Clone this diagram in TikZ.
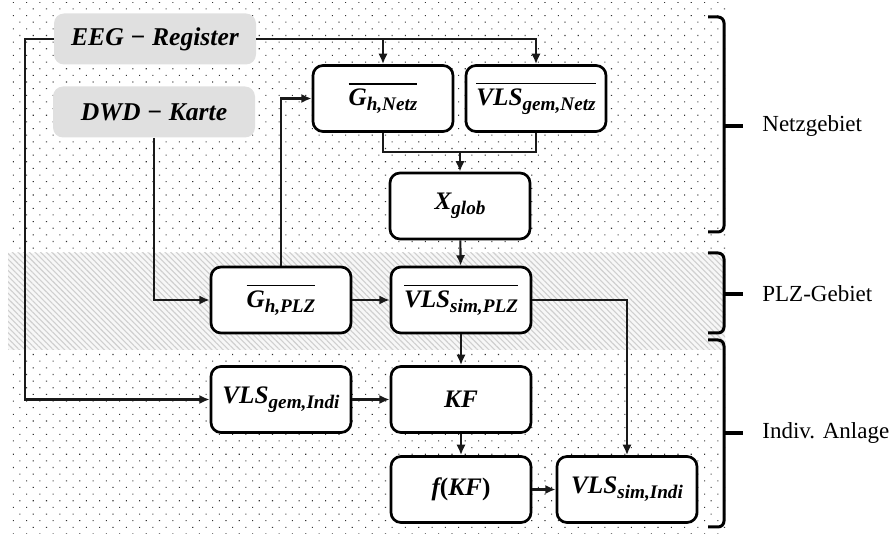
\documentclass[tikz,border=0pt]{standalone}
\usepackage{fontspec}
\setmainfont{Liberation Serif}
\usetikzlibrary{arrows.meta,patterns.meta}
\newcommand\bix[1]{{\bfseries\itshape #1}}
\newcommand\subx[1]{\raisebox{-2.6pt}{\fontsize{9.6}{9.6}\selectfont\bfseries\itshape #1}}
\newcommand\ovlx[1]{\setbox0\hbox{#1}\vbox{\hrule width\wd0 height0.85pt\kern2pt\box0}}
\begin{document}
\begin{tikzpicture}[x=0.5pt,y=-0.5pt,
  box/.style={draw,line width=1.35pt,rounded corners=5pt,fill=white,
    minimum width=70pt,minimum height=33pt,inner sep=0pt,
    font=\fontsize{12.6}{14}\selectfont},
  src/.style={fill=gray!24,rounded corners=5pt,minimum width=101pt,
    minimum height=25.5pt,inner sep=0pt,font=\fontsize{12.8}{14}\selectfont},
  conn/.style={line width=1.05pt,black!90},
  arr/.style={conn,-{Latex[length=5.2pt,width=4.6pt]}},
  brc/.style={line width=1.5pt,rounded corners=3pt},
  lbl/.style={anchor=west,inner sep=0pt,font=\fontsize{11.5}{13}\selectfont}]
\useasboundingbox (0,0) rectangle (891,534);
% backgrounds
\path[pattern={Dots[distance=4.7pt,radius=0.38pt,angle=45]},pattern color=black!80]
  (8,3) rectangle (725,534);
\fill[white] (8,253) rectangle (725,350);
\path[fill=gray!6] (8,253) rectangle (725,350);
\path[pattern={Lines[angle=-45,distance=2pt,line width=0.55pt]},pattern color=gray!38]
  (8,253) rectangle (725,350);
% nodes
\node[src] (eeg) at (155,39) {\bix{EEG − Register}};
\node[src] (dwd) at (154,112) {\bix{DWD − Karte}};
\node[box] (gnetz) at (383,98.5) {\ovlx{\bix{G}\subx{h,Netz}}};
\node[box] (vnetz) at (536,98.5) {\ovlx{\bix{VLS}\subx{gem,Netz}}};
\node[box] (xglob) at (460,206) {\bix{X}\subx{glob}};
\node[box] (gplz) at (281,300) {\ovlx{\bix{G}\subx{h,PLZ}}};
\node[box] (vplz) at (461,300) {\ovlx{\bix{VLS}\subx{sim,PLZ}}};
\node[box] (vindi) at (281,399.5) {\bix{VLS}\subx{gem,Indi}};
\node[box] (kf) at (461,399.5) {\bix{KF}};
\node[box] (fkf) at (461,489.5) {\bix{f}{\bfseries(}\bix{KF}{\bfseries)}};
\node[box] (vsindi) at (627,489.5) {\bix{VLS}\subx{sim,Indi}};
% connectors
\coordinate (eegL) at (25,39);
\coordinate (m) at (460,152);
\draw[arr] (eeg.east) -| (vnetz.north);
\draw[arr] (gnetz.north |- eeg.east) -- (gnetz.north);
\draw[arr] (eeg.west) -- (eegL) |- (vindi.west);
\draw[arr] (dwd.south) |- (gplz.west);
\draw[arr] (gplz.north) |- (gnetz.west);
\draw[conn] (gnetz.south) |- (m) -| (vnetz.south);
\draw[arr] (m) -- (xglob.north);
\draw[arr] (xglob) -- (vplz);
\draw[arr] (gplz) -- (vplz);
\draw[arr] (vplz) -- (kf);
\draw[arr] (vindi) -- (kf);
\draw[arr] (kf) -- (fkf);
\draw[arr] (fkf) -- (vsindi);
\draw[arr] (vplz.east) -| (vsindi.north);
% braces
\draw[brc] (708,17) -- (724,17) -- (724,232) -- (708,232);
\draw[line width=1.7pt] (724,126) -- (743,126);
\draw[brc] (708,253) -- (724,253) -- (724,333) -- (708,333);
\draw[line width=1.7pt] (724,294) -- (743,294);
\draw[brc] (708,340) -- (724,340) -- (724,527) -- (708,527);
\draw[line width=1.7pt] (724,433) -- (743,433);
\node[lbl] (l1) at (762,126) {Netzgebiet};
\node[lbl] (l2) at (762,294) {PLZ-Gebiet};
\node[lbl] (l3) at (762,433) {Indiv. Anlage};
\end{tikzpicture}
\end{document}
